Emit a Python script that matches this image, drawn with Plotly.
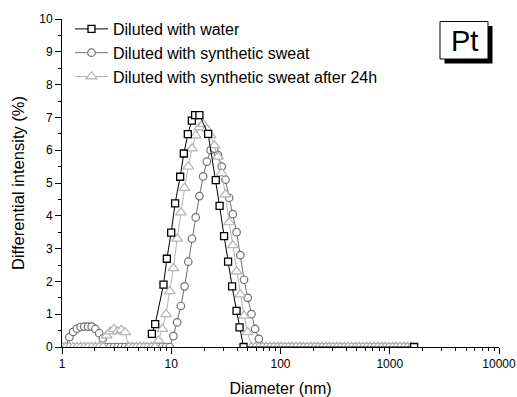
import plotly.graph_objects as go

# ---------------- data ----------------
# size bins (nm) shared by the two synthetic-sweat series
diam = [1.000, 1.081, 1.169, 1.265, 1.368, 1.479, 1.600, 1.730, 1.871, 2.023,
        2.188, 2.366, 2.559, 2.767, 2.992, 3.236, 3.499, 3.784, 4.093, 4.426,
        4.786, 5.176, 5.598, 6.053, 6.546, 7.079, 7.656, 8.279, 8.954, 9.683,
        10.47, 11.32, 12.25, 13.24, 14.32, 15.49, 16.75, 18.11, 19.59, 21.18,
        22.91, 24.77, 26.79, 28.97, 31.33, 33.88, 36.64, 39.63, 42.85, 46.34,
        50.12, 54.20, 58.61, 63.39, 68.55, 74.13, 80.17, 86.70, 93.76, 101.4,
        109.6, 118.6, 128.2, 138.7, 150.0, 162.2, 175.4, 189.7, 205.1, 221.8,
        239.9, 259.4, 280.5, 303.4, 328.1, 354.8, 383.7, 414.9, 448.7, 485.3,
        524.8, 567.5, 613.8, 663.7, 717.8, 776.2, 839.5, 907.8, 981.7, 1062,
        1148, 1242, 1343, 1452, 1570]

sweat = [0, 0, 0.30, 0.46, 0.56, 0.61, 0.62, 0.62, 0.62, 0.55,
         0.42, 0.26, 0, 0, 0, 0, 0, 0, 0, 0,
         0, 0, 0, 0, 0, 0, 0, 0, 0, 0,
         0.33, 0.75, 1.25, 1.85, 2.60, 3.30, 3.95, 4.60, 5.20, 5.65,
         6.00, 6.05, 5.85, 5.50, 5.10, 4.55, 4.05, 3.50, 2.80, 2.05,
         1.50, 1.00, 0.55, 0.25, 0, 0, 0, 0, 0, 0,
         0, 0, 0, 0, 0, 0, 0, 0, 0, 0,
         0, 0, 0, 0, 0, 0, 0, 0, 0, 0,
         0, 0, 0, 0, 0, 0, 0, 0, 0, 0,
         0, 0, 0, 0]

sweat24 = [0, 0, 0, 0, 0, 0, 0, 0, 0, 0,
           0, 0, 0.35, 0.47, 0.55, 0.48, 0.52, 0.45, 0, 0,
           0, 0, 0, 0, 0, 0, 0.20, 0.55, 1.00, 1.70,
           2.40, 3.30, 4.10, 4.85, 5.50, 6.05, 6.45, 6.70, 6.80, 6.65,
           6.45, 6.15, 5.80, 5.30, 4.65, 3.80, 3.10, 2.30, 1.60, 0.95,
           0.45, 0, 0, 0, 0, 0, 0, 0, 0, 0,
           0, 0, 0, 0, 0, 0, 0, 0, 0, 0,
           0, 0, 0, 0, 0, 0, 0, 0, 0, 0,
           0, 0, 0, 0, 0, 0, 0, 0, 0, 0,
           0, 0, 0, 0, 0]

water_d = [6.65, 7.13, 8.49, 9.12, 9.98, 10.85, 12.06, 13.04, 14.18, 15.43,
           16.54, 18.10, 21.75, 25.57, 27.70, 30.45, 33.13, 36.04, 39.61, 42.20,
           45.90, 1671]
water = [0.40, 0.70, 1.90, 2.69, 3.49, 4.38, 5.19, 5.90, 6.49, 6.90,
         7.07, 7.07, 6.50, 5.09, 4.30, 3.38, 2.60, 1.85, 1.10, 0.60,
         0, 0]

x_tickvals = [1, 10, 100, 1000, 10000]
x_ticktext = ["1", "10", "100", "1000", "10000"]

names = ["Diluted with water", "Diluted with synthetic sweat",
         "Diluted with synthetic sweat after 24h"]

FONT = "Liberation Sans, Arial, sans-serif"

fig = go.Figure()

fig.add_trace(go.Scatter(
    x=diam[:len(sweat)], y=sweat, name=names[1], mode="lines+markers",
    legendrank=2,
    line=dict(color="#707070", width=1),
    marker=dict(symbol="circle", size=7.5, color="white",
                line=dict(color="#707070", width=1.2))))

fig.add_trace(go.Scatter(
    x=diam[:len(sweat24)], y=sweat24, name=names[2], mode="lines+markers",
    legendrank=3,
    line=dict(color="#b4b4b4", width=1),
    marker=dict(symbol="triangle-up", size=9.5, color="white",
                line=dict(color="#b4b4b4", width=1.2))))

fig.add_trace(go.Scatter(
    x=water_d, y=water, name=names[0], mode="lines+markers",
    legendrank=1,
    line=dict(color="black", width=1),
    marker=dict(symbol="square", size=7, color="white",
                line=dict(color="black", width=1.3))))

L, R, T, B = 62, 18, 19, 50
W, H = 517, 397
pw, ph = W - L - R, H - T - B


def px_x(px):
    return (px - L) / pw


def px_y(py):
    return (H - B - py) / ph


fig.update_layout(
    width=W, height=H,
    margin=dict(l=L, r=R, t=T, b=B, autoexpand=False),
    paper_bgcolor="white", plot_bgcolor="white",
    font=dict(family=FONT, color="black", size=12),
    showlegend=True,
    legend=dict(x=px_x(70), y=px_y(12), xanchor="left", yanchor="top",
                bgcolor="rgba(0,0,0,0)", borderwidth=0,
                font=dict(family=FONT, size=16, color="black"),
                tracegroupgap=0, itemwidth=33),
    shapes=[
        dict(type="rect", xref="paper", yref="paper",
             x0=px_x(444.5), x1=px_x(492.5), y0=px_y(63.5), y1=px_y(26),
             fillcolor="black", line=dict(width=0)),
        dict(type="rect", xref="paper", yref="paper",
             x0=px_x(440), x1=px_x(488), y0=px_y(59), y1=px_y(21.5),
             fillcolor="white", line=dict(color="black", width=1)),
    ],
    annotations=[
        dict(text="Pt", xref="paper", yref="paper", x=px_x(464), y=px_y(40.5),
             xanchor="center", yanchor="middle", showarrow=False,
             font=dict(family=FONT, size=29, color="black")),
    ],
)

fig.update_xaxes(
    type="log", range=[0, 4], automargin=False,
    tickvals=x_tickvals, ticktext=x_ticktext,
    ticks="outside", ticklen=6, tickwidth=1, tickcolor="black",
    showline=True, linecolor="black", linewidth=1,
    showgrid=False, zeroline=False,
    tickfont=dict(family=FONT, size=12),
    minor=dict(ticks="outside", ticklen=3, tickwidth=1, tickcolor="black",
               dtick="D1", showgrid=False),
    title=dict(text="Diameter (nm)", font=dict(family=FONT, size=16), standoff=14),
)

fig.update_yaxes(
    range=[0, 10], dtick=1, automargin=False,
    ticks="outside", ticklen=6, tickwidth=1, tickcolor="black",
    showline=True, linecolor="black", linewidth=1,
    showgrid=False, zeroline=False,
    tickfont=dict(family=FONT, size=12),
    minor=dict(ticks="outside", ticklen=3, tickwidth=1, tickcolor="black",
               dtick=0.5, showgrid=False),
    title=dict(text="Differential intensity (%)", font=dict(family=FONT, size=16.5), standoff=10),
)

fig.write_html("out.html")
